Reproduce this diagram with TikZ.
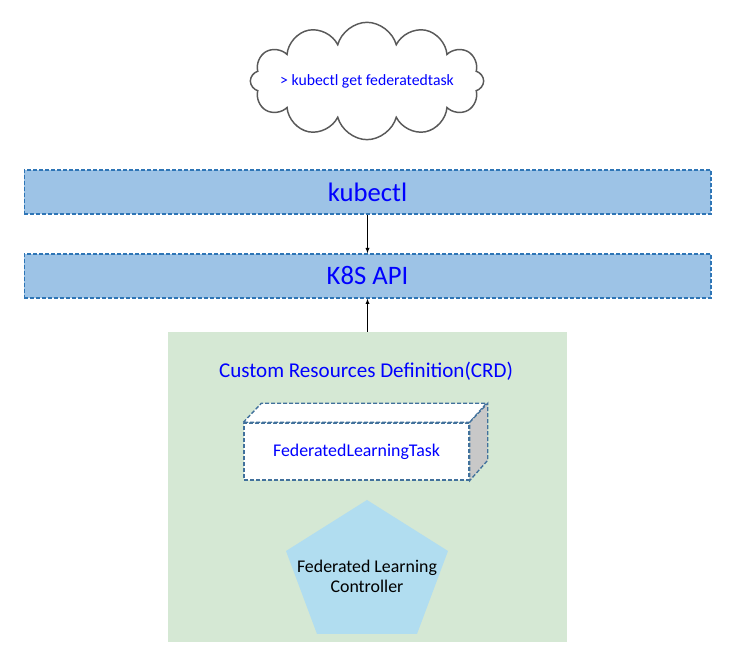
\documentclass[tikz,border=0pt]{standalone}
\usepackage{fontspec}
\setmainfont{Carlito}
\usetikzlibrary{positioning}
\usetikzlibrary{arrows,shapes}
\usetikzlibrary{shapes.symbols}
\definecolor{boxblue}{RGB}{157,195,230}
\definecolor{boxline}{RGB}{46,117,182}
\definecolor{cubeline}{RGB}{65,113,156}
\definecolor{crdgreen}{RGB}{213,232,212}
\definecolor{ctrlblue}{RGB}{177,221,240}
\definecolor{sidegray}{RGB}{200,200,200}
\definecolor{cloudline}{RGB}{89,89,89}
\definecolor{txtblue}{RGB}{0,0,255}

\begin{document}
\begin{tikzpicture}[x=0.75pt,y=0.75pt,>=latex,
  layer/.style={draw=boxline,fill=boxblue,dash pattern=on 3pt off 1.5pt,line width=1pt,
    minimum width=515pt,minimum height=33pt,inner sep=0pt,text=txtblue,
    font=\fontsize{20}{22}\selectfont},
  crdbox/.style={fill=crdgreen,minimum width=299pt,minimum height=232.5pt,inner sep=0pt},
  taskbox/.style={draw=cubeline,fill=white,dash pattern=on 3pt off 1.5pt,line width=1pt,
    minimum width=168.75pt,minimum height=42.75pt,inner sep=0pt,text=txtblue,
    font=\fontsize{13.4}{15}\selectfont}]
\useasboundingbox (0,0) rectangle (747,659);

%draw cloud
\node[cloud,draw=cloudline,line width=1.1pt,cloud puffs=12,aspect=2,
  minimum width=175pt,minimum height=88pt,inner sep=0pt] (cmd) at (367,578) {};
\node[text=txtblue,font=\fontsize{11.8}{13}\selectfont] (cmdtext) at (cmd.center) {> kubectl get federatedtask};

%draw layers
\node[layer] (kubectl) at (367.5,467) {kubectl};
\node[layer] (k8s) at (367.5,383) {K8S API};

%draw crd block
\node[crdbox] (crd) at (367.5,172) {};
\node[text=txtblue,font=\fontsize{15.8}{18}\selectfont] (crdtitle) at (366,288) {Custom Resources Definition(CRD)};

%draw cube
\node[taskbox] (task) at (356.5,207.5) {FederatedLearningTask};
\draw[cubeline,fill=white,dash pattern=on 3pt off 1.5pt,line width=1pt]
  (task.north west) -- ++(18,19) -- ++(225,0) -- (task.north east) -- cycle;
\draw[cubeline,fill=sidegray,dash pattern=on 3pt off 1.5pt,line width=1pt]
  (task.north east) -- ++(18,19) -- ++(0,-57) -- (task.south east) -- cycle;

%draw controller
\fill[ctrlblue] (367,159) -- (448,108) -- (417,25) -- (317,25) -- (286,108) -- cycle;
\node[align=center,font=\fontsize{13.4}{15}\selectfont] (ctrl) at (367,83) {Federated Learning\\Controller};

%arrows
\draw[->] (kubectl.south) -- (k8s.north);
\draw[->] (crd.north) -- (k8s.south);
\end{tikzpicture}
\end{document}
